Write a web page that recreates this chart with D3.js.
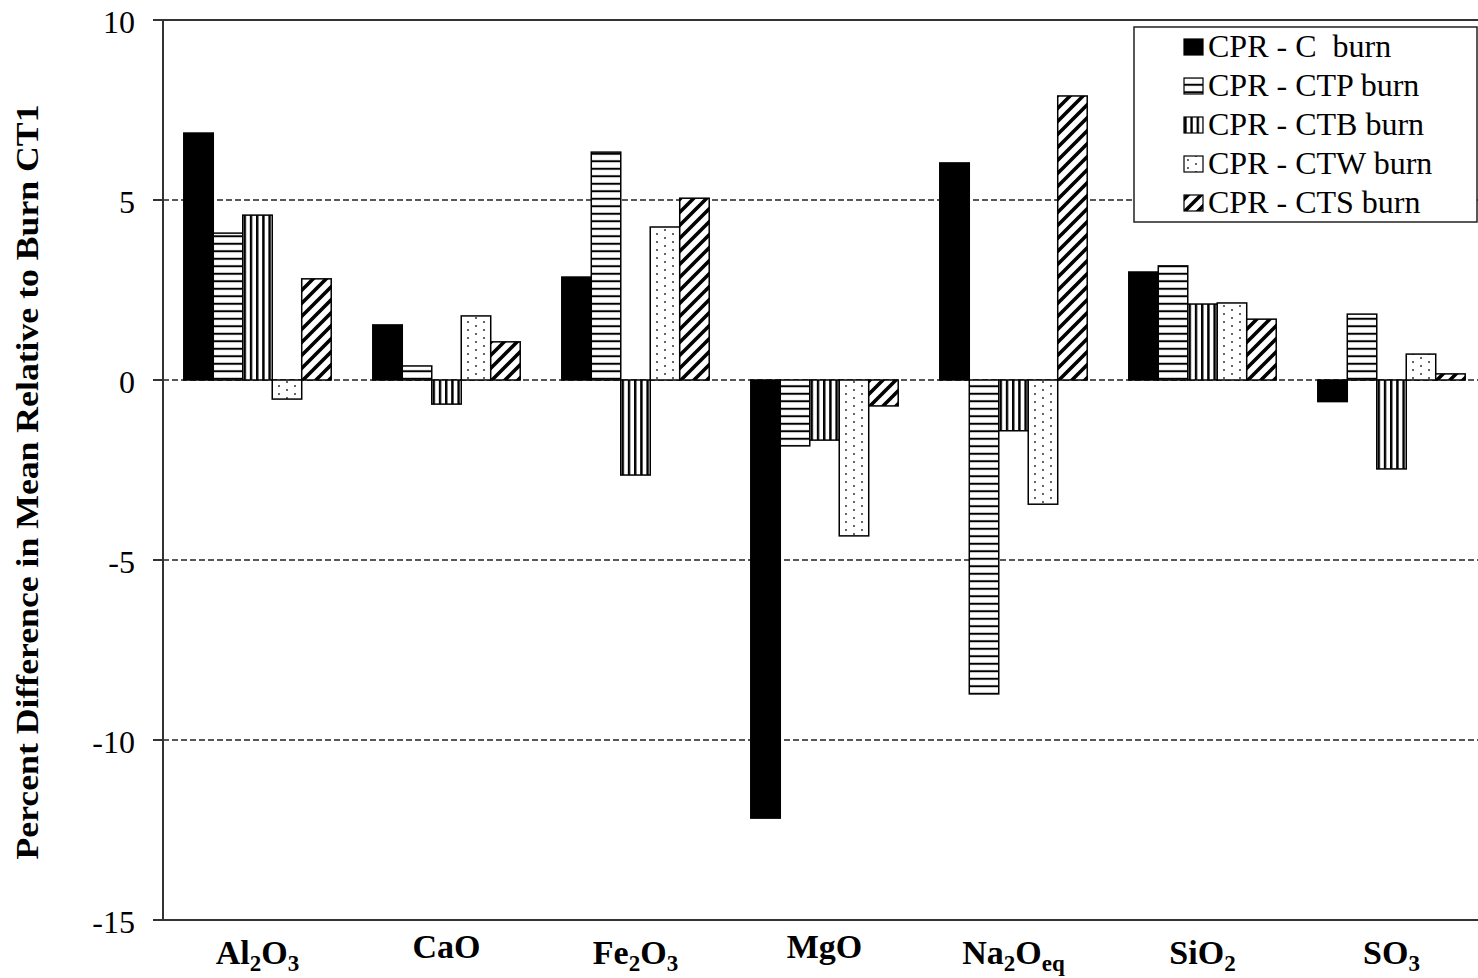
<!DOCTYPE html>
<html>
<head>
<meta charset="utf-8">
<script src="https://cdn.jsdelivr.net/npm/d3@7"></script>
<style>
  html, body { margin: 0; padding: 0; background: #fff; }
  svg { display: block; font-family: "Liberation Serif", "Times New Roman", serif; }
  .pre { white-space: pre; }
</style>
</head>
<body>
<script>
// Oxide categories along the x axis
const categories = ["Al2O3", "CaO", "Fe2O3", "MgO", "Na2Oeq", "SiO2", "SO3"];

// Burn series (legend order)
const seriesNames = ["CPR - C  burn", "CPR - CTP burn", "CPR - CTB burn", "CPR - CTW burn", "CPR - CTS burn"];

// Percent difference in mean relative to burn CT1, one value per oxide
const cBurn   = [6.86, 1.53, 2.86, -12.17, 6.03, 3.00, -0.60];
const ctpBurn = [4.08, 0.39, 6.33, -1.83, -8.72, 3.17, 1.83];
const ctbBurn = [4.58, -0.67, -2.64, -1.67, -1.41, 2.11, -2.47];
const ctwBurn = [-0.53, 1.78, 4.25, -4.33, -3.45, 2.14, 0.72];
const ctsBurn = [2.81, 1.06, 5.05, -0.72, 7.89, 1.69, 0.17];

const yTicks = [10, 5, 0, -5, -10, -15];
const gridTicks = [5, 0, -5, -10];

const seriesValues = [cBurn, ctpBurn, ctbBurn, ctwBurn, ctsBurn];
const fills = ["#000", "url(#pat-h)", "url(#pat-v)", "url(#pat-dot)", "url(#pat-diag)"];

const W = 1478, H = 978;
const plot = { left: 163, right: 1486, top: 20, bottom: 920 };

const svg = d3.select("body").append("svg")
  .attr("width", W).attr("height", H)
  .attr("viewBox", `0 0 ${W} ${H}`);

// ---- hatch patterns ----
const defs = svg.append("defs");

const ph = defs.append("pattern").attr("id", "pat-h")
  .attr("patternUnits", "userSpaceOnUse").attr("width", 8).attr("height", 7.5);
ph.append("rect").attr("width", 8).attr("height", 7.5).attr("fill", "#fff");
ph.append("rect").attr("y", 2.75).attr("width", 8).attr("height", 2).attr("fill", "#000");

const pv = defs.append("pattern").attr("id", "pat-v")
  .attr("patternUnits", "userSpaceOnUse").attr("width", 6.2).attr("height", 10);
pv.append("rect").attr("width", 6.2).attr("height", 10).attr("fill", "#fff");
pv.append("rect").attr("x", 0).attr("width", 2.4).attr("height", 10).attr("fill", "#000");

const pd = defs.append("pattern").attr("id", "pat-dot")
  .attr("patternUnits", "userSpaceOnUse").attr("width", 16).attr("height", 8);
pd.append("rect").attr("width", 16).attr("height", 8).attr("fill", "#fff");
pd.append("circle").attr("cx", 4).attr("cy", 2).attr("r", 1).attr("fill", "#333");
pd.append("circle").attr("cx", 12).attr("cy", 6).attr("r", 1).attr("fill", "#333");

const ps = defs.append("pattern").attr("id", "pat-diag")
  .attr("patternUnits", "userSpaceOnUse").attr("width", 13).attr("height", 13);
ps.append("rect").attr("width", 13).attr("height", 13).attr("fill", "#fff");
ps.append("path")
  .attr("d", "M-4,4 L4,-4 M0,13 L13,0 M9,17 L17,9")
  .attr("stroke", "#000").attr("stroke-width", 3.6);

// ---- scales ----
const y = d3.scaleLinear().domain([-15, 10]).range([plot.bottom, plot.top]);
const x0 = d3.scaleBand().domain(categories).range([plot.left, plot.right]).padding(0);
const groupPad = x0.bandwidth() * 0.11;
const x1 = d3.scaleBand().domain(d3.range(seriesNames.length))
  .range([groupPad, x0.bandwidth() - groupPad]).padding(0);

// ---- gridlines ----
svg.append("g").selectAll("line").data(gridTicks).join("line")
  .attr("x1", plot.left).attr("x2", W)
  .attr("y1", d => y(d)).attr("y2", d => y(d))
  .attr("stroke", "#222").attr("stroke-width", 1.5)
  .attr("stroke-dasharray", "6,3");

// ---- bars ----
const groups = svg.append("g").selectAll("g").data(categories).join("g")
  .attr("transform", d => `translate(${x0(d)},0)`);

groups.selectAll("rect")
  .data((c, ci) => seriesValues.map((vals, si) => ({ si, v: vals[ci] })))
  .join("rect")
  .attr("x", d => x1(d.si))
  .attr("width", x1.bandwidth())
  .attr("y", d => y(Math.max(0, d.v)))
  .attr("height", d => Math.abs(y(d.v) - y(0)))
  .attr("fill", d => fills[d.si])
  .attr("stroke", "#000").attr("stroke-width", 1.5);

// ---- axes ----
const axes = svg.append("g").attr("stroke", "#333").attr("stroke-width", 2);
axes.append("line").attr("x1", plot.left).attr("x2", plot.left)
  .attr("y1", plot.top).attr("y2", plot.bottom);
axes.append("line").attr("x1", plot.left - 10).attr("x2", W)
  .attr("y1", plot.top).attr("y2", plot.top);
axes.append("line").attr("x1", plot.left - 10).attr("x2", W)
  .attr("y1", plot.bottom).attr("y2", plot.bottom);
axes.selectAll("line.tick").data(yTicks).join("line").attr("class", "tick")
  .attr("x1", plot.left - 10).attr("x2", plot.left)
  .attr("y1", d => y(d)).attr("y2", d => y(d));

// y tick labels
svg.append("g").selectAll("text").data(yTicks).join("text")
  .attr("x", 135).attr("y", d => y(d)).attr("dy", "0.4em")
  .attr("text-anchor", "end")
  .attr("font-size", 32).attr("fill", "#000")
  .text(d => d);

// x category labels with chemical subscripts
svg.append("g").selectAll("text").data(categories).join("text")
  .attr("x", d => x0(d) + x0.bandwidth() / 2)
  .attr("y", d => /\d|eq$/.test(d) ? 964 : 958)
  .attr("text-anchor", "middle")
  .attr("font-size", 34).attr("font-weight", "bold").attr("fill", "#000")
  .each(function (d) {
    const parts = d.split(/(\d+|eq$)/).filter(p => p.length);
    const t = d3.select(this);
    let down = false;
    parts.forEach(p => {
      const sub = /^(\d+|eq)$/.test(p);
      const dy = sub && !down ? 7 : (!sub && down ? -7 : 0);
      down = sub;
      t.append("tspan").attr("dy", dy)
        .attr("font-size", sub ? 23 : 34).text(p);
    });
  });

// y axis title
svg.append("text")
  .attr("transform", "translate(38,482) rotate(-90)")
  .attr("text-anchor", "middle")
  .attr("font-size", 32).attr("font-weight", "bold").attr("fill", "#000")
  .attr("textLength", 755).attr("lengthAdjust", "spacingAndGlyphs")
  .text("Percent Difference in Mean Relative to Burn CT1");

// ---- legend ----
const legend = svg.append("g");
legend.append("rect")
  .attr("x", 1134).attr("y", 27).attr("width", 343).attr("height", 195)
  .attr("fill", "#fff").attr("stroke", "#222").attr("stroke-width", 1.5);

const rows = legend.selectAll("g.row").data(seriesNames).join("g").attr("class", "row")
  .attr("transform", (d, i) => `translate(0,${57 + 39 * i})`);
rows.append("rect")
  .attr("x", 1184).attr("y", -18).attr("width", 19).attr("height", 16)
  .attr("fill", (d, i) => fills[i]).attr("stroke", "#000").attr("stroke-width", 1.2);
rows.append("text").attr("class", "pre")
  .attr("x", 1208).attr("y", 0)
  .attr("font-size", 32).attr("fill", "#000")
  .text(d => d);
</script>
</body>
</html>
